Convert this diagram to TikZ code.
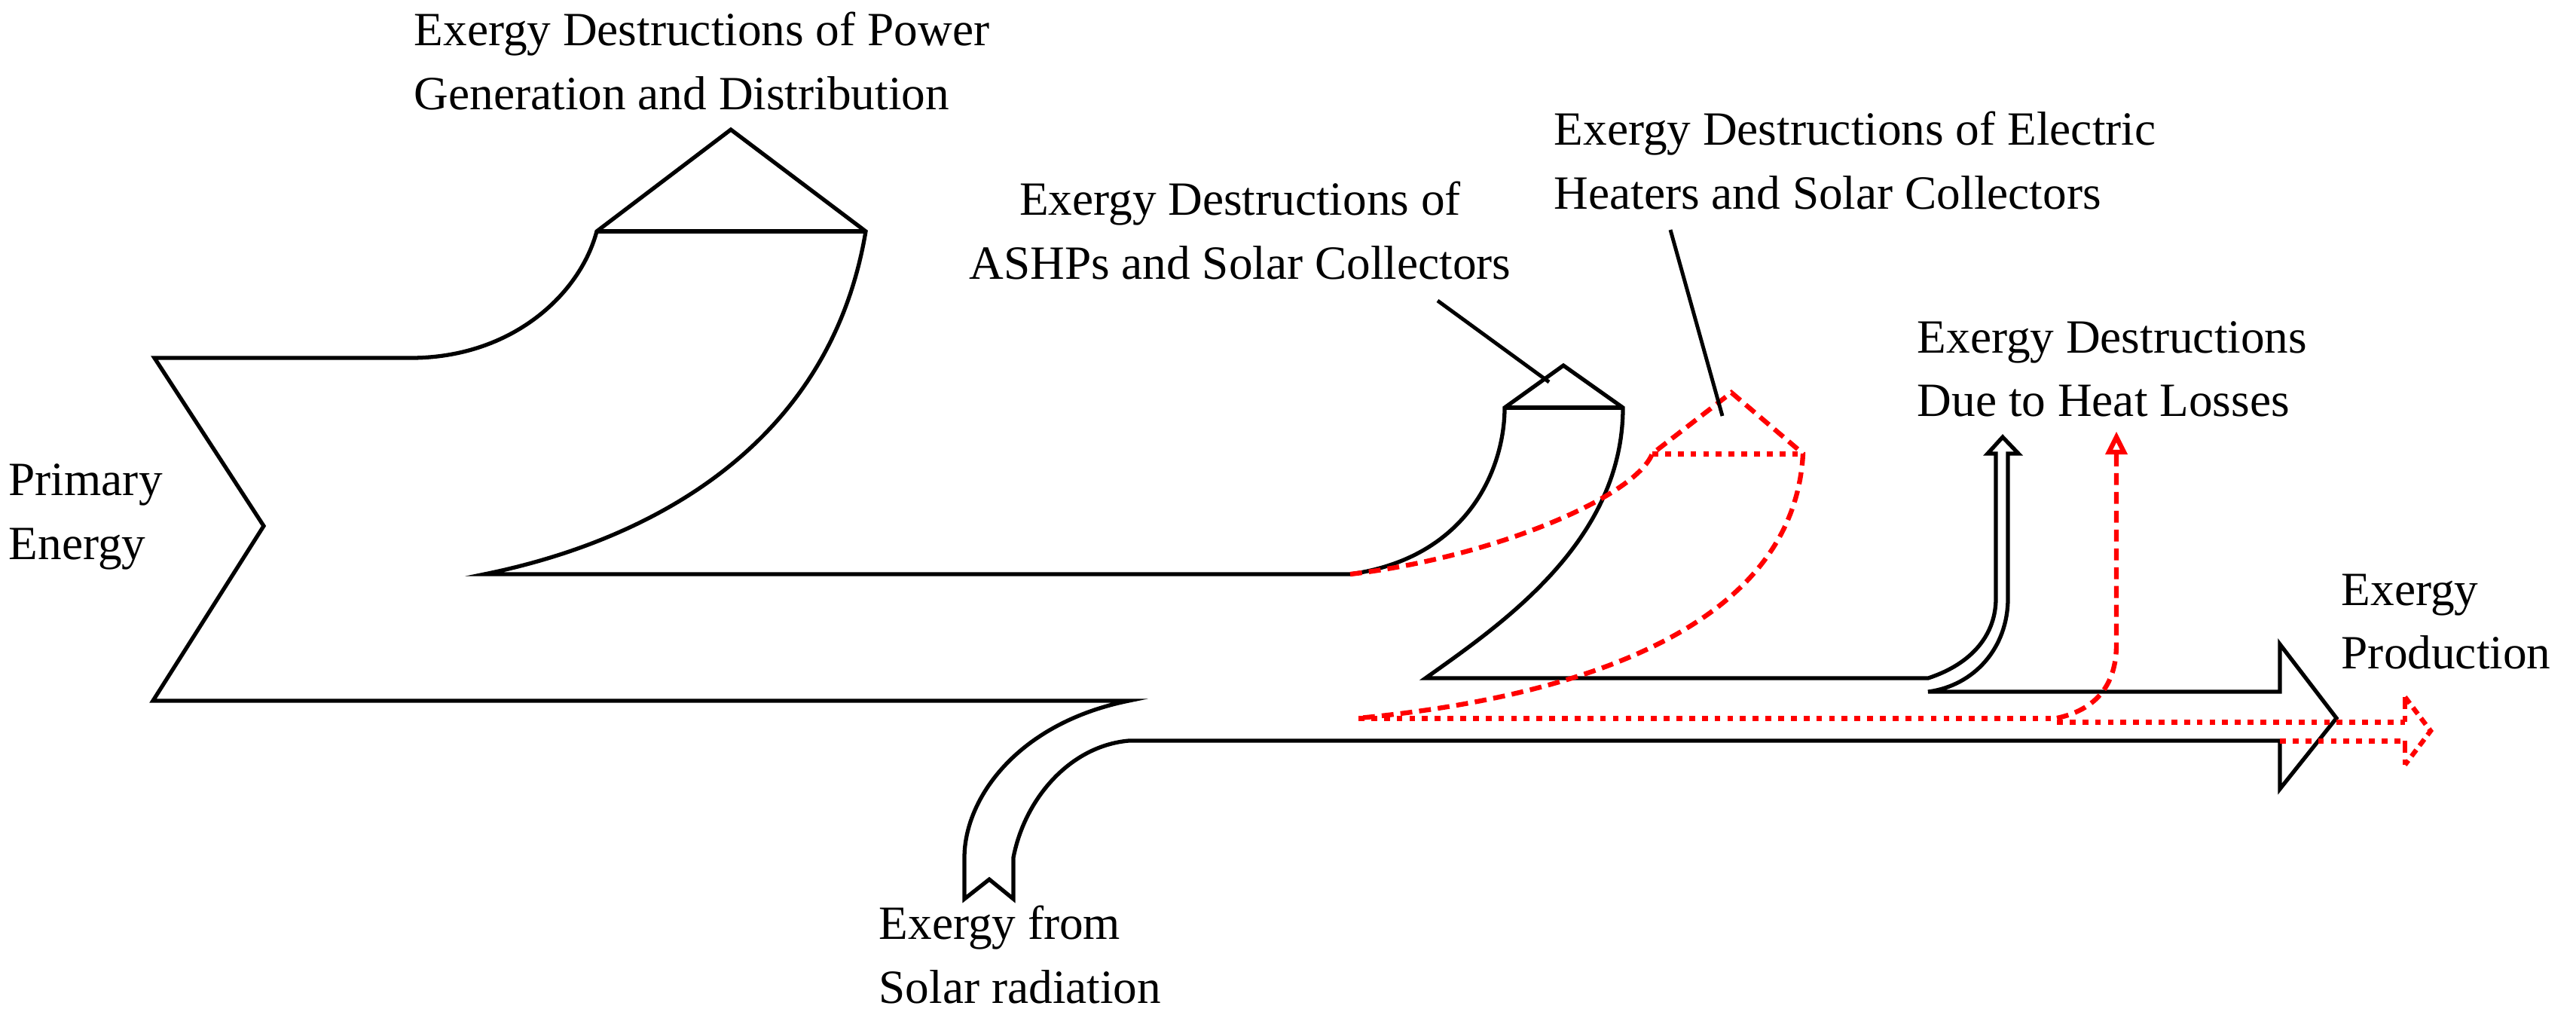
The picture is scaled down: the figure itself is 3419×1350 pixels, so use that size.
\documentclass[tikz,border=0pt]{standalone}
\usepackage{fontspec}
\setmainfont{Liberation Serif}
\begin{document}
\begin{tikzpicture}[x=0.01cm,y=-0.01cm,
  blk/.style={line width=1.5pt,line join=miter},
  red/.style={draw=red,line width=1.8pt,dash pattern=on 4.5pt off 2.6pt},
  redd/.style={draw=red,line width=2pt,dash pattern=on 2.2pt off 2.6pt},
  lbl/.style={font=\fontsize{18}{24}\selectfont,inner sep=0pt}]
\useasboundingbox (0,0) rectangle (3419,1350);
% main black flow
\draw[blk] (545,475) -- (205,475) -- (350,698) -- (203,930) -- (1498,930)
  .. controls (1350,960) and (1280,1060) .. (1280,1138) -- (1280,1193)
  -- (1313,1167) -- (1345,1193) -- (1345,1138)
  .. controls (1360,1060) and (1420,990) .. (1498,983) -- (3026,983)
  -- (3026,1047) -- (3101,953) -- (3026,855) -- (3026,918) -- (2559,918)
  .. controls (2620,910) and (2665,860) .. (2665,794) -- (2665,602)
  -- (2679,602) -- (2658,580) -- (2638,602) -- (2649,602) -- (2649,794)
  .. controls (2649,840) and (2620,880) .. (2559,900) -- (1892,900)
  .. controls (1990,830) and (2154,720) .. (2154,541) -- (2075,485) -- (1997,541)
  .. controls (1997,620) and (1950,740) .. (1792,762) -- (643,762)
  .. controls (850,720) and (1100,600) .. (1149,307) -- (970,172) -- (792,307)
  .. controls (770,390) and (680,475) .. (545,475);
\draw[blk] (792,307) -- (1149,307);
\draw[blk] (1997,541) -- (2154,541);
% red flow
\draw[red] (1792,762) .. controls (1980,740) and (2170,660) .. (2193,602)
  -- (2298,521) -- (2393,602) .. controls (2380,850) and (2050,930) .. (1803,953);
\draw[redd] (2193,602) -- (2393,602);
\draw[redd] (1803,953) -- (2730,953);
\draw[red] (2730,953) .. controls (2790,940) and (2809,900) .. (2809,855) -- (2809,598);
\draw[red,solid] (2799,600) -- (2809,580) -- (2819,600) -- cycle;
\draw[redd] (2730,958) -- (3192,958);
\draw[redd] (3026,983) -- (3192,983);
\draw[red] (3192,925) -- (3192,958);
\draw[red] (3192,983) -- (3192,1015);
\draw[red,dash pattern=on 3pt off 2pt] (3192,925) -- (3226,970) -- (3192,1015);
% leaders
\coordinate (l1a) at (1908,399); \coordinate (l1b) at (2056,507);
\coordinate (l2a) at (2217,305); \coordinate (l2b) at (2286,552);
\draw[line width=1.4pt] (l1a) -- (l1b);
\draw[line width=1.4pt] (l2a) -- (l2b);
% labels
\node[lbl,anchor=west,align=left] (t1) at (549,81) {Exergy Destructions of Power\\Generation and Distribution};
\node[lbl,anchor=center,align=center] (t2) at (1646,306) {Exergy Destructions of\\ASHPs and Solar Collectors};
\node[lbl,anchor=west,align=left] (t3) at (2062,213) {Exergy Destructions of Electric\\Heaters and Solar Collectors};
\node[lbl,anchor=west,align=left] (t4) at (2544,490) {Exergy Destructions\\Due to Heat Losses};
\node[lbl,anchor=west,align=left] (t5) at (3107,825) {Exergy\\Production};
\node[lbl,anchor=west,align=left] (t6) at (11,686) {Primary\\Energy};
\node[lbl,anchor=west,align=left] (t7) at (1166,1267) {Exergy from\\Solar radiation};
\end{tikzpicture}
\end{document}
